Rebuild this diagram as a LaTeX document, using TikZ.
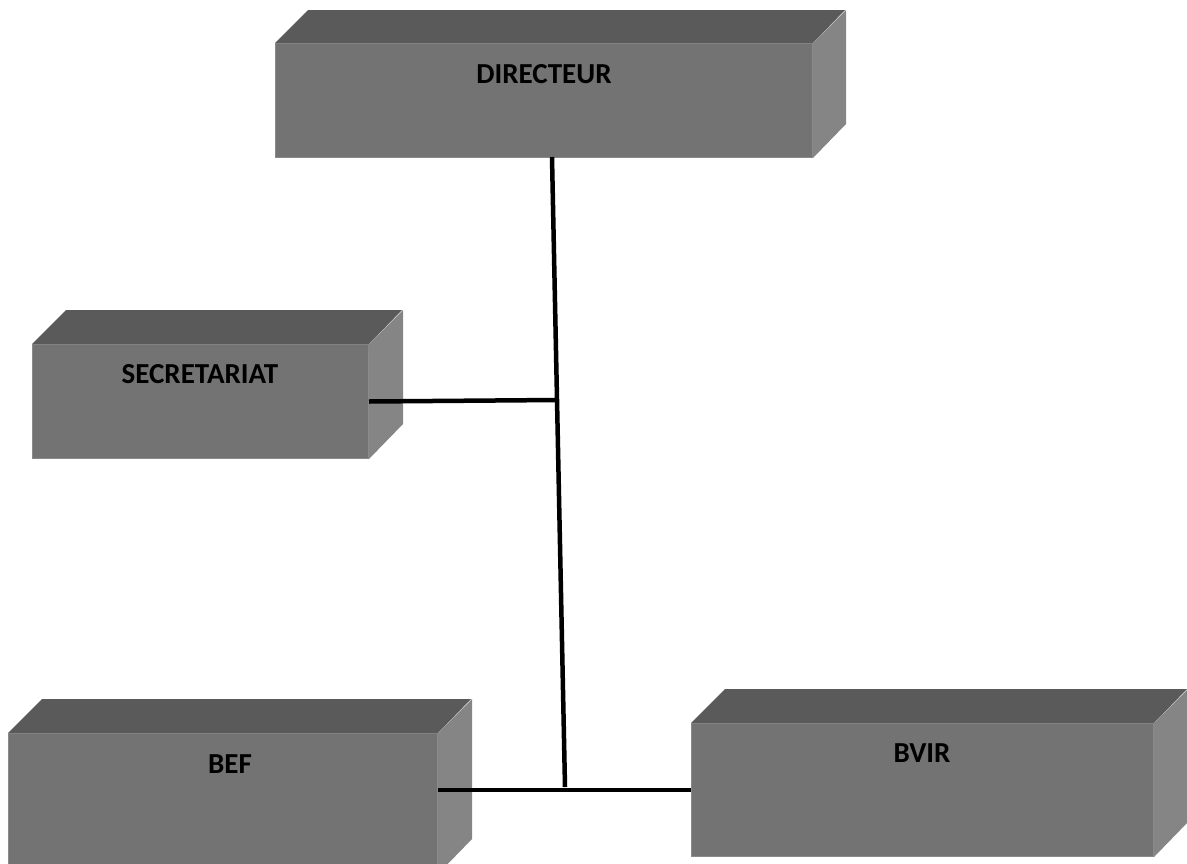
\documentclass[tikz,border=0pt]{standalone}
\usepackage{fontspec}
\setmainfont{Carlito}
\definecolor{frontc}{HTML}{737373}
\definecolor{topc}{HTML}{5A5A5A}
\definecolor{sidec}{HTML}{858585}
\definecolor{edgec}{HTML}{8A8A8A}
\tikzset{
  front/.style={draw=edgec, line width=1pt, fill=frontc, rectangle, inner sep=0pt, anchor=north west},
  lab/.style={font=\bfseries\fontsize{29}{33}\selectfont, text=black, inner sep=0pt},
  conn/.style={line width=4.5pt, black},
}
% #1 name, #2 x, #3 y (top-left of front face), #4 width, #5 height, #6 depth
\newcommand{\cuboid}[6]{%
  \node[front, minimum width=#4pt, minimum height=#5pt] (#1) at (#2,#3) {};
  \fill[topc] (#1.north west) -- ++(#6,-#6) -- ++(#4,0) -- (#1.north east) -- cycle;
  \fill[sidec] (#1.north east) -- ++(#6,-#6) -- ++(0,#5) -- (#1.south east) -- cycle;
}
\begin{document}
\begin{tikzpicture}[x=1pt,y=-1pt]
\useasboundingbox (0,0) rectangle (1187,863);
\begin{scope}
\clip (0,0) rectangle (1187,863);
\cuboid{dir}{275}{43}{537}{114}{33}
\cuboid{sec}{32}{344}{336}{114}{34}
\cuboid{bef}{8}{733}{429}{140}{34}
\cuboid{bvir}{691}{723}{462}{133}{34}
\end{scope}
\node[lab] (tdir) at (544,74) {DIRECTEUR};
\node[lab] (tsec) at (200,374) {SECRETARIAT};
\node[lab] (tbef) at (230,764) {BEF};
\node[lab] (tbvir) at (922,753) {BVIR};
\coordinate (vt) at (552,157);
\coordinate (vb) at (565,787);
\coordinate (js) at (557,400);
\draw[conn] (vt) -- (vb);
\draw[conn] (sec.east) -- (js);
\draw[conn] (bef.east |- bvir.west) -- (bvir.west);
\end{tikzpicture}
\end{document}
